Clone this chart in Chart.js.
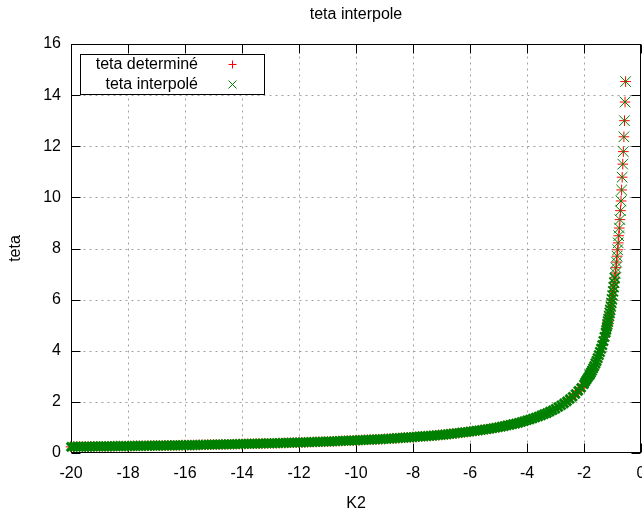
<!DOCTYPE html>
<html>
<head>
<meta charset="utf-8">
<title>teta interpole</title>
<script src="https://cdn.jsdelivr.net/npm/chart.js@4.4.1/dist/chart.umd.min.js"></script>
<style>
    html, body { margin: 0; padding: 0; background: #fff; }
    canvas { display: block; }
</style>
</head>
<body>
<canvas id="tetaChart" width="642" height="513"></canvas>
<script>
// K2 samples (x)
const k2Values = [
    -20.0, -19.9, -19.8, -19.7, -19.6, -19.5, -19.4, -19.3, -19.2, -19.1,
    -19.0, -18.9, -18.8, -18.7, -18.6, -18.5, -18.4, -18.3, -18.2, -18.1,
    -18.0, -17.9, -17.8, -17.7, -17.6, -17.5, -17.4, -17.3, -17.2, -17.1,
    -17.0, -16.9, -16.8, -16.7, -16.6, -16.5, -16.4, -16.3, -16.2, -16.1,
    -16.0, -15.9, -15.8, -15.7, -15.6, -15.5, -15.4, -15.3, -15.2, -15.1,
    -15.0, -14.9, -14.8, -14.7, -14.6, -14.5, -14.4, -14.3, -14.2, -14.1,
    -14.0, -13.9, -13.8, -13.7, -13.6, -13.5, -13.4, -13.3, -13.2, -13.1,
    -13.0, -12.9, -12.8, -12.7, -12.6, -12.5, -12.4, -12.3, -12.2, -12.1,
    -12.0, -11.9, -11.8, -11.7, -11.6, -11.5, -11.4, -11.3, -11.2, -11.1,
    -11.0, -10.9, -10.8, -10.7, -10.6, -10.5, -10.4, -10.3, -10.2, -10.1,
    -10.0, -9.9, -9.8, -9.7, -9.6, -9.5, -9.4, -9.3, -9.2, -9.1,
    -9.0, -8.9, -8.8, -8.7, -8.6, -8.5, -8.4, -8.3, -8.2, -8.1,
    -8.0, -7.9, -7.8, -7.7, -7.6, -7.5, -7.4, -7.3, -7.2, -7.1,
    -7.0, -6.9, -6.8, -6.7, -6.6, -6.5, -6.4, -6.3, -6.2, -6.1,
    -6.0, -5.9, -5.8, -5.7, -5.6, -5.5, -5.4, -5.3, -5.2, -5.1,
    -5.0, -4.9, -4.8, -4.7, -4.6, -4.5, -4.4, -4.3, -4.2, -4.1,
    -4.0, -3.9, -3.8, -3.7, -3.6, -3.5, -3.4, -3.3, -3.2, -3.1,
    -3.0, -2.9, -2.8, -2.7, -2.6, -2.5, -2.4, -2.3, -2.2, -2.1,
    -2.0,
    -1.96, -1.92, -1.88, -1.84, -1.80, -1.76, -1.72, -1.68, -1.64, -1.60,
    -1.56, -1.52, -1.48, -1.44, -1.40, -1.36, -1.32, -1.28, -1.24,
    -1.22,
    -1.20, -1.18, -1.16, -1.14, -1.12, -1.10, -1.08, -1.06, -1.04, -1.02,
    -1.00, -0.98, -0.96, -0.94, -0.92, -0.90, -0.88, -0.86, -0.84, -0.82,
    -0.80, -0.78, -0.76, -0.74, -0.72, -0.70, -0.68, -0.66, -0.64, -0.62,
    -0.60, -0.58, -0.56, -0.54
];

// teta determiné (y)
const tetaDetermine = [
    0.24, 0.25, 0.25, 0.25, 0.25, 0.25, 0.25, 0.25, 0.26, 0.26,
    0.26, 0.26, 0.26, 0.26, 0.26, 0.27, 0.27, 0.27, 0.27, 0.27,
    0.27, 0.27, 0.28, 0.28, 0.28, 0.28, 0.28, 0.28, 0.29, 0.29,
    0.29, 0.29, 0.29, 0.29, 0.30, 0.30, 0.30, 0.30, 0.30, 0.31,
    0.31, 0.31, 0.31, 0.31, 0.31, 0.32, 0.32, 0.32, 0.32, 0.33,
    0.33, 0.33, 0.33, 0.33, 0.34, 0.34, 0.34, 0.34, 0.35, 0.35,
    0.35, 0.35, 0.36, 0.36, 0.36, 0.36, 0.37, 0.37, 0.37, 0.38,
    0.38, 0.38, 0.38, 0.39, 0.39, 0.39, 0.40, 0.40, 0.40, 0.41,
    0.41, 0.41, 0.42, 0.42, 0.43, 0.43, 0.43, 0.44, 0.44, 0.44,
    0.45, 0.45, 0.46, 0.46, 0.47, 0.47, 0.48, 0.48, 0.49, 0.49,
    0.49, 0.50, 0.51, 0.51, 0.52, 0.52, 0.53, 0.53, 0.54, 0.54,
    0.55, 0.56, 0.56, 0.57, 0.58, 0.58, 0.59, 0.60, 0.61, 0.61,
    0.62, 0.63, 0.64, 0.65, 0.66, 0.66, 0.67, 0.68, 0.69, 0.70,
    0.71, 0.72, 0.73, 0.75, 0.76, 0.77, 0.78, 0.80, 0.81, 0.82,
    0.84, 0.85, 0.87, 0.88, 0.90, 0.92, 0.93, 0.95, 0.97, 0.99,
    1.01, 1.03, 1.05, 1.08, 1.10, 1.13, 1.15, 1.18, 1.21, 1.24,
    1.28, 1.31, 1.35, 1.39, 1.43, 1.47, 1.52, 1.56, 1.62, 1.67,
    1.73, 1.80, 1.87, 1.94, 2.02, 2.11, 2.20, 2.31, 2.43, 2.55,
    2.69,
    2.78, 2.85, 2.92, 2.99, 3.06, 3.14, 3.22, 3.31, 3.40, 3.50,
    3.60, 3.71, 3.83, 3.95, 4.08, 4.22, 4.38, 4.54, 4.71,
    4.82,
    4.93, 5.03, 5.14, 5.24, 5.36, 5.48, 5.60, 5.73, 5.87, 6.01,
    6.16, 6.32, 6.49, 6.66, 6.85, 7.04, 7.25, 7.47, 7.70, 7.95,
    8.22, 8.50, 8.80, 9.13, 9.48, 9.86, 10.29, 10.79, 11.30, 11.79,
    12.37, 13.00, 13.73, 14.53
];

// teta interpolé: on the picture every green x sits on its red +
const tetaInterpole = tetaDetermine.slice();

const xTickValues = [-20, -18, -16, -14, -12, -10, -8, -6, -4, -2, 0];
const yTickValues = [0, 2, 4, 6, 8, 10, 12, 14, 16];

const FONT_FAMILY = '"Liberation Sans", Arial, sans-serif';
const FONT = '16px ' + FONT_FAMILY;

function toPoints(xs, ys) {
    return xs.map((x, i) => ({ x: x, y: ys[i] }));
}

// where the markers pile up the original looks like a solid band,
// so the green strokes get heavier there (and a touch smaller so the band keeps its height)
function interpoleStroke(context) {
    const y = context.raw ? context.raw.y : 0;
    if (y < 3) return 3;
    if (y < 5) return 2.4;
    if (y < 7) return 1.6;
    return 1;
}

function interpoleRadius(context) {
    return 7.5 - (interpoleStroke(context) - 1) * 0.75;
}

// gnuplot style frame: dotted grid, black border, inward ticks on all four sides
const gnuplotFrame = {
    id: 'gnuplotFrame',
    beforeDatasetsDraw(chart) {
        const { ctx, chartArea: a, scales } = chart;
        const L = Math.round(a.left) + 0.5;
        const R = Math.round(a.right) - 0.5;
        const T = Math.round(a.top) + 0.5;
        const B = Math.round(a.bottom) - 0.5;
        const xs = xTickValues.map(v => Math.round(scales.x.getPixelForValue(v)) + 0.5);
        const ys = yTickValues.map(v => Math.round(scales.y.getPixelForValue(v)) + 0.5);

        ctx.save();
        ctx.lineWidth = 1;
        ctx.strokeStyle = '#a0a0a0';
        ctx.setLineDash([2, 4]);
        ctx.beginPath();
        xs.forEach(px => {
            if (px <= L + 1 || px >= R - 1) return;
            ctx.moveTo(px, T);
            ctx.lineTo(px, B);
        });
        ys.forEach(py => {
            if (py <= T + 1 || py >= B - 1) return;
            ctx.moveTo(L, py);
            ctx.lineTo(R, py);
        });
        ctx.stroke();

        ctx.setLineDash([]);
        ctx.strokeStyle = '#000';
        ctx.beginPath();
        const tick = 9;
        xs.forEach(px => {
            ctx.moveTo(px, B);
            ctx.lineTo(px, B - tick);
            ctx.moveTo(px, T);
            ctx.lineTo(px, T + tick);
        });
        ys.forEach(py => {
            ctx.moveTo(L, py);
            ctx.lineTo(L + tick, py);
            ctx.moveTo(R, py);
            ctx.lineTo(R - tick, py);
        });
        ctx.stroke();
        ctx.strokeRect(L, T, R - L, B - T);
        ctx.restore();
    },
    afterDatasetsDraw(chart) {
        const ctx = chart.ctx;
        const entries = [
            { label: chart.data.datasets[0].label, color: '#ff0000', style: 'plus' },
            { label: chart.data.datasets[1].label, color: '#008000', style: 'x' }
        ];
        ctx.save();
        ctx.fillStyle = '#fff';
        ctx.fillRect(80.5, 54.5, 184, 40);
        ctx.strokeStyle = '#000';
        ctx.lineWidth = 1;
        ctx.strokeRect(80.5, 54.5, 184, 40);

        ctx.font = FONT;
        ctx.textAlign = 'right';
        ctx.textBaseline = 'middle';
        entries.forEach((e, i) => {
            const y = 64.5 + i * 20;
            ctx.fillStyle = '#000';
            ctx.fillText(e.label, 198, y);
            const mx = 232.5, r = 4;
            ctx.strokeStyle = e.color;
            ctx.beginPath();
            if (e.style === 'plus') {
                ctx.moveTo(mx - r, y); ctx.lineTo(mx + r, y);
                ctx.moveTo(mx, y - r); ctx.lineTo(mx, y + r);
            } else {
                ctx.moveTo(mx - r, y - r); ctx.lineTo(mx + r, y + r);
                ctx.moveTo(mx - r, y + r); ctx.lineTo(mx + r, y - r);
            }
            ctx.stroke();
        });
        ctx.restore();
    },
    afterDraw(chart) {
        const { ctx, chartArea: a } = chart;
        ctx.save();
        ctx.font = FONT;
        ctx.fillStyle = '#000';
        ctx.textAlign = 'center';
        ctx.textBaseline = 'middle';
        ctx.fillText('teta interpole', (a.left + a.right) / 2, 15);
        ctx.restore();
    }
};

function renderTetaChart() {
    const ctx = document.getElementById('tetaChart').getContext('2d');
    Chart.defaults.color = '#000';
    Chart.defaults.font.family = FONT_FAMILY;
    Chart.defaults.font.size = 16;

    new Chart(ctx, {
        type: 'scatter',
        data: {
            datasets: [{
                label: 'teta determiné',
                data: toPoints(k2Values, tetaDetermine),
                pointStyle: 'cross',
                pointRadius: 5.3,
                borderColor: '#ff0000',
                pointBorderWidth: 1,
                clip: false,
                order: 1
            }, {
                label: 'teta interpolé',
                data: toPoints(k2Values, tetaInterpole),
                pointStyle: 'crossRot',
                pointRadius: interpoleRadius,
                borderColor: '#008000',
                pointBorderWidth: interpoleStroke,
                clip: false,
                order: 0
            }]
        },
        options: {
            responsive: false,
            animation: false,
            events: [],
            layout: { autoPadding: false, padding: { top: 44, right: 1, bottom: 0, left: 0 } },
            scales: {
                x: {
                    type: 'linear',
                    min: -20,
                    max: 0,
                    afterBuildTicks: s => { s.ticks = xTickValues.map(v => ({ value: v })); },
                    ticks: { padding: 11, maxRotation: 0, autoSkip: false },
                    grid: { display: false, drawTicks: false },
                    border: { display: false },
                    title: { display: true, text: 'K2', padding: { top: 0, bottom: 0 } },
                    afterFit: s => {
                        s.height = 60;
                        s.paddingLeft = 0;
                        s.paddingRight = 0;
                    }
                },
                y: {
                    type: 'linear',
                    min: 0,
                    max: 16,
                    afterBuildTicks: s => { s.ticks = yTickValues.map(v => ({ value: v })); },
                    ticks: { padding: 10, autoSkip: false },
                    grid: { display: false, drawTicks: false },
                    border: { display: false },
                    title: { display: true, text: 'teta', padding: { top: 6, bottom: 0 } },
                    afterFit: s => {
                        s.width = 71;
                        s.paddingTop = 0;
                        s.paddingBottom = 0;
                    }
                }
            },
            plugins: {
                legend: { display: false },
                tooltip: { enabled: false },
                title: { display: false }
            }
        },
        plugins: [gnuplotFrame]
    });
}

document.addEventListener('DOMContentLoaded', renderTetaChart);
</script>
</body>
</html>
